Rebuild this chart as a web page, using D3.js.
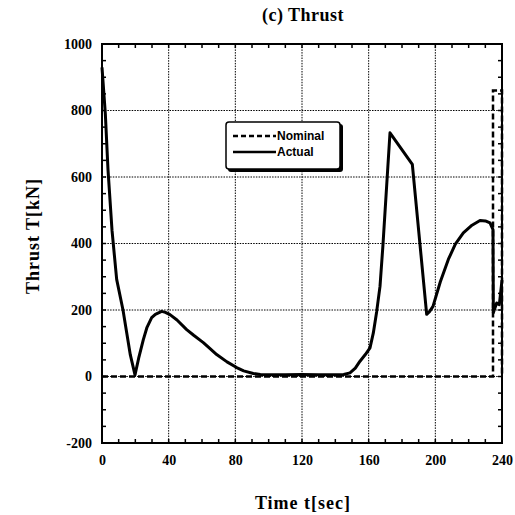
<!DOCTYPE html>
<html>
<head>
<meta charset="utf-8">
<script src="https://cdn.jsdelivr.net/npm/d3@7"></script>
<style>
  body { margin: 0; background: #fff; }
  svg { display: block; }
  .tick text { font-family: "Liberation Serif", "Times New Roman", serif; font-weight: bold; font-size: 14px; fill: #000; }
</style>
</head>
<body>
<div id="chart"></div>
<script>
// time axis ticks and thrust axis ticks
const xTicks = [0, 40, 80, 120, 160, 200, 240]
const yTicks = [-200, 0, 200, 400, 600, 800, 1000]

// nominal thrust profile (dashed)
const nominalT = [0, 234.6, 234.6, 240, 240]
const nominalThrust = [0, 0, 860, 860, 0]

// actual thrust (solid)
const actualT = [0, 2, 3.6, 6, 8.8, 12.6, 14.8, 17, 19.8, 22, 24.8, 27, 29.8, 32, 35.8, 38, 40.8, 45, 50.8, 55,
  60.8, 65, 68.8, 75, 80.8, 85, 90.8, 95, 98.8, 110, 120, 130, 140, 145, 148.8, 152, 154.8, 158, 160.8, 162.8,
  164.8, 166.8, 168.5, 170, 171.5, 172.8, 186.2, 194.8, 196.5, 198.6, 203, 207.8, 212, 216.8, 222, 226.8,
  230, 232.8, 234.6, 234.8, 236.8, 238.4, 240]
const actualThrust = [930, 790, 622, 440, 292, 200, 132, 65, 5, 55, 111, 148, 177, 187, 196, 193, 186, 170, 141, 124,
  102, 83, 66, 44, 27, 17, 9, 6, 5, 5, 6, 5, 5, 6, 11, 25, 46, 66, 86, 131,
  195, 271, 390, 510, 630, 733, 638, 187, 195, 211, 285, 352, 398, 432, 455, 469,
  468, 462, 442, 192, 221, 216, 290]

const legendLabels = ["Nominal", "Actual"]

const width = 515
const height = 515
const margin = { top: 44, left: 102, bottom: 72, right: 13 }
const iwidth = width - margin.left - margin.right
const iheight = height - margin.top - margin.bottom

const svg = d3.select("#chart").append("svg")
  .attr("width", width)
  .attr("height", height)

const g = svg.append("g").attr("transform", `translate(${margin.left},${margin.top})`)

const x = d3.scaleLinear().domain([0, 240]).range([0, iwidth])
const y = d3.scaleLinear().domain([-200, 1000]).range([iheight, 0])

// dotted grid
g.append("g").selectAll("line").data(xTicks.slice(1, -1)).enter().append("line")
  .attr("x1", d => x(d)).attr("x2", d => x(d))
  .attr("y1", 0).attr("y2", iheight)
  .attr("stroke", "#000").attr("stroke-width", 1).attr("stroke-dasharray", "1.5,1.2")
g.append("g").selectAll("line").data(yTicks.slice(1, -1)).enter().append("line")
  .attr("y1", d => y(d)).attr("y2", d => y(d))
  .attr("x1", 0).attr("x2", iwidth)
  .attr("stroke", "#000").attr("stroke-width", 1).attr("stroke-dasharray", "1.5,1.2")

// minor ticks inside on all four sides
const xMinor = d3.range(10, 240, 10)
const yMinor = d3.range(-150, 1000, 50)
const tk = 4
const ticks = g.append("g").attr("stroke", "#000").attr("stroke-width", 1.5)
xMinor.forEach(d => {
  ticks.append("line").attr("x1", x(d)).attr("x2", x(d)).attr("y1", iheight).attr("y2", iheight - tk)
  ticks.append("line").attr("x1", x(d)).attr("x2", x(d)).attr("y1", 0).attr("y2", tk)
})
yMinor.forEach(d => {
  ticks.append("line").attr("y1", y(d)).attr("y2", y(d)).attr("x1", 0).attr("x2", tk)
  ticks.append("line").attr("y1", y(d)).attr("y2", y(d)).attr("x1", iwidth).attr("x2", iwidth - tk)
})

// axis labels (plain hyphen for negatives, as in the original)
const fmt = d => String(d)
g.append("g")
  .attr("transform", `translate(0,${iheight})`)
  .call(d3.axisBottom(x).tickValues(xTicks).tickFormat(fmt).tickSize(0).tickPadding(12))
  .call(a => a.select(".domain").remove())
g.append("g")
  .call(d3.axisLeft(y).tickValues(yTicks).tickFormat(fmt).tickSize(0).tickPadding(10))
  .call(a => a.select(".domain").remove())

// nominal line
const nominal = nominalT.map((t, i) => [t, nominalThrust[i]])
g.append("path")
  .datum(nominal)
  .attr("fill", "none")
  .attr("stroke", "#000")
  .attr("stroke-width", 2.5)
  .attr("stroke-dasharray", "6,3")
  .attr("d", d3.line().x(d => x(d[0])).y(d => y(d[1])))

// actual line
const actual = actualT.map((t, i) => [t, actualThrust[i]])
g.append("path")
  .datum(actual)
  .attr("fill", "none")
  .attr("stroke", "#000")
  .attr("stroke-width", 3)
  .attr("stroke-linejoin", "round")
  .attr("d", d3.line().x(d => x(d[0])).y(d => y(d[1])))

// frame
g.append("rect")
  .attr("width", iwidth).attr("height", iheight)
  .attr("fill", "none").attr("stroke", "#000").attr("stroke-width", 2)

// legend
const lg = svg.append("g").attr("transform", "translate(226,122)")
lg.append("rect").attr("x", 2).attr("y", 2).attr("width", 115).attr("height", 48).attr("rx", 3)
  .attr("fill", "#000")
lg.append("rect").attr("width", 114).attr("height", 47).attr("rx", 3)
  .attr("fill", "#fff").attr("stroke", "#000").attr("stroke-width", 1.5)
legendLabels.forEach((name, i) => {
  const ly = 14 + i * 16
  lg.append("line").attr("x1", 7).attr("x2", 50).attr("y1", ly).attr("y2", ly)
    .attr("stroke", "#000").attr("stroke-width", 2.5)
    .attr("stroke-dasharray", i === 0 ? "5,3" : null)
  lg.append("text").attr("x", 51).attr("y", ly).attr("dy", "0.35em")
    .attr("font-family", "Liberation Sans, Arial, sans-serif").attr("font-weight", "bold")
    .attr("font-size", 12).attr("fill", "#000").text(name)
})

// titles
svg.append("text").attr("x", 303).attr("y", 21)
  .attr("text-anchor", "middle").attr("fill", "#000")
  .attr("font-family", "Liberation Serif, serif").attr("font-weight", "bold")
  .attr("font-size", 18).attr("letter-spacing", 0.5)
  .text("(c)  Thrust")
svg.append("text").attr("x", 303).attr("y", 509)
  .attr("text-anchor", "middle").attr("fill", "#000")
  .attr("font-family", "Liberation Serif, serif").attr("font-weight", "bold")
  .attr("font-size", 18).attr("letter-spacing", 1)
  .text("Time  t[sec]")
svg.append("text")
  .attr("transform", "translate(39,236) rotate(-90)")
  .attr("text-anchor", "middle").attr("fill", "#000")
  .attr("font-family", "Liberation Serif, serif").attr("font-weight", "bold")
  .attr("font-size", 18).attr("letter-spacing", 1)
  .text("Thrust  T[kN]")
</script>
</body>
</html>
